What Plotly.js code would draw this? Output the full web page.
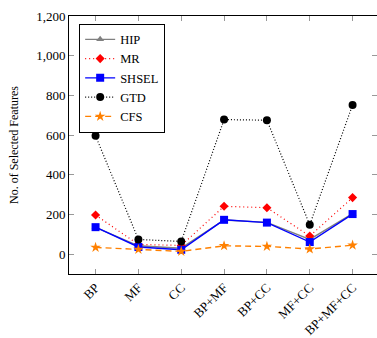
<!DOCTYPE html>
<html>
<head>
<meta charset="utf-8">
<script src="https://cdn.plot.ly/plotly-3.0.1.min.js"></script>
<style>html,body{margin:0;padding:0;background:#fff;overflow:hidden}</style>
</head>
<body>
<div id="chart" style="width:377px;height:338px"></div>
<script>
const categories = ["BP", "MF", "CC", "BP+MF", "BP+CC", "MF+CC", "BP+MF+CC"];
const hip   = [135, 42, 30, 172, 160, 74, 204];
const mr    = [197, 49, 44, 241, 234, 91, 285];
const shsel = [136, 36, 22, 173, 159, 61, 202];
const gtd   = [596, 74, 64, 678, 675, 148, 752];
const cfs   = [34, 24, 14, 42, 39, 26, 45];
const yTicks = [0, 200, 400, 600, 800, 1000, 1200];

const font = "'Liberation Serif', 'Times New Roman', serif";
const traces = [
  {name: "HIP", y: hip, line: {color: "#808080", width: 1.4, dash: "solid"},
   marker: {symbol: "triangle-up", size: 7, color: "#808080"}},
  {name: "MR", y: mr, line: {color: "#ff0000", width: 1.2, dash: "1px,3px"},
   marker: {symbol: "diamond", size: 7, color: "#ff0000"}},
  {name: "SHSEL", y: shsel, line: {color: "#0000ff", width: 1.4, dash: "solid"},
   marker: {symbol: "square", size: 8, color: "#0000ff"}},
  {name: "GTD", y: gtd, line: {color: "#000000", width: 1.2, dash: "1px,2px"},
   marker: {symbol: "circle", size: 8, color: "#000000"}},
  {name: "CFS", y: cfs, line: {color: "#ff8000", width: 1.4, dash: "6px,4px"},
   marker: {symbol: "star", size: 8, color: "#ff8000"}}
].map(t => Object.assign({x: categories, type: "scatter", mode: "lines+markers"}, t));

const layout = {
  width: 377, height: 338,
  margin: {l: 69, r: 0, t: 16, b: 64},
  paper_bgcolor: "#fff", plot_bgcolor: "#fff",
  font: {family: font, size: 13, color: "#000"},
  showlegend: true,
  legend: {x: 0.033, y: 0.97, xanchor: "left", yanchor: "top",
           bgcolor: "#fff", bordercolor: "#000", borderwidth: 1,
           font: {family: font, size: 12.5}, tracegroupgap: 0, itemwidth: 30},
  xaxis: {type: "category", range: [-0.62, 6.57], tickangle: -45,
          showline: true, linecolor: "#000", linewidth: 1, mirror: "ticks",
          ticks: "inside", ticklen: 5, tickcolor: "#999", showgrid: false,
          tickfont: {family: font, size: 13}, fixedrange: true},
  yaxis: {range: [-100, 1200], tickvals: yTicks, tickformat: ",",
          showline: true, linecolor: "#000", linewidth: 1, mirror: "ticks",
          ticks: "inside", ticklen: 5, tickcolor: "#999", showgrid: false, zeroline: false,
          tickfont: {family: font, size: 13},
          title: {text: "No. of Selected Features", font: {family: font, size: 12}, standoff: 14}}
};
Plotly.newPlot("chart", traces, layout, {displayModeBar: false, staticPlot: true});
</script>
</body>
</html>
